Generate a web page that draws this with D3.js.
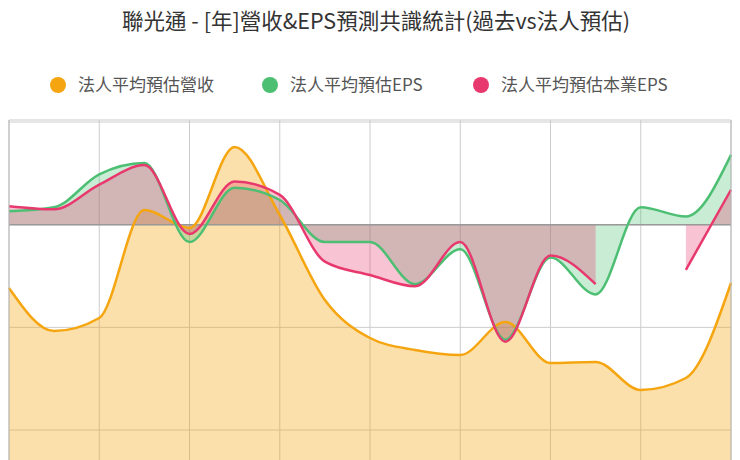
<!DOCTYPE html>
<html><head><meta charset="utf-8">
<script src="https://cdn.jsdelivr.net/npm/d3@7"></script>
<style>body{margin:0;background:#fff;font-family:"Noto Sans CJK TC","Noto Sans",sans-serif;}</style>
</head><body>
<script>
/* data */
var periods = d3.range(17);
var revenue = [172,129,142,250,232,313,245,160,122,110,105,138,97,98,70,82,177];
var epsAll = [0.13,0.17,0.49,0.60,-0.17,0.36,0.24,-0.17,-0.17,-0.58,-0.24,-1.12,-0.32,-0.68,0.17,0.08,0.68];
var epsCore = [0.18,0.15,0.39,0.58,-0.09,0.42,0.29,-0.36,-0.49,-0.60,-0.17,-1.14,-0.30,-0.58,null,-0.44,0.34];
var epsTicks = [1,0,-1,-2];

var W = 740, H = 460;
var svg = d3.select("body").append("svg").attr("width", W).attr("height", H);

var x = d3.scaleLinear().domain([0,16]).range([9,731]);
var yEps = d3.scaleLinear().domain([1,-2]).range([122,430]);
var yRev = d3.scaleLinear().domain([0,340]).range([460,120]);

/* title + legend */
svg.append("text").attr("x", 376).attr("y", 29).attr("text-anchor","middle")
  .attr("font-size", 21.5).attr("fill","#333").text("聯光通 - [年]營收&EPS預測共識統計(過去vs法人預估)");
var legend = [["法人平均預估營收","#F5A50F",58],["法人平均預估EPS","#4CBF73",270],["法人平均預估本業EPS","#E8396E",481]];
legend.forEach(function(l){
  svg.append("circle").attr("cx", l[2]).attr("cy", 85).attr("r", 8).attr("fill", l[1]);
  svg.append("text").attr("x", l[2]+20).attr("y", 91).attr("font-size", 17).attr("fill","#555").text(l[0]);
});

/* grid */
var g = svg.append("g");
periods.filter(function(d){return d%2==0;}).forEach(function(d){
  g.append("line").attr("x1", x(d)).attr("x2", x(d)).attr("y1",120).attr("y2",H).attr("stroke","#ccc");
});
epsTicks.forEach(function(t){
  g.append("line").attr("x1",9).attr("x2",731).attr("y1",yEps(t)).attr("y2",yEps(t)).attr("stroke","#ccc");
});
g.append("line").attr("x1",9).attr("x2",731).attr("y1",120).attr("y2",120).attr("stroke","#ccc");

/* areas */
var curve = d3.curveMonotoneX;
svg.append("path").datum(revenue)
  .attr("d", d3.area().curve(curve).x(function(d,i){return x(i);}).y0(H).y1(function(d){return yRev(d);}))
  .attr("fill","rgba(245,165,15,0.35)");
function epsArea(data, col){
  var a = d3.area().curve(curve).defined(function(d){return d!==null;})
    .x(function(d,i){return x(i);}).y0(yEps(0)).y1(function(d){return yEps(d);});
  svg.append("path").datum(data).attr("d", a).attr("fill", col);
}
epsArea(epsAll, "rgba(76,191,115,0.3)");
epsArea(epsCore, "rgba(232,57,110,0.3)");
svg.append("line").attr("x1",9).attr("x2",731).attr("y1",yEps(0)).attr("y2",yEps(0)).attr("stroke","#999").attr("stroke-width",1.5);

function line(data, yS, col){
  var l = d3.line().curve(curve).defined(function(d){return d!==null;})
    .x(function(d,i){return x(i);}).y(function(d){return yS(d);});
  svg.append("path").datum(data).attr("d", l).attr("fill","none").attr("stroke", col).attr("stroke-width",2.5);
}
line(revenue, yRev, "#F5A50F");
line(epsAll, yEps, "#4CBF73");
line(epsCore, yEps, "#E8396E");

/* frame */
svg.append("line").attr("x1",9).attr("x2",9).attr("y1",120).attr("y2",H).attr("stroke","#bbb");
svg.append("line").attr("x1",731).attr("x2",731).attr("y1",120).attr("y2",H).attr("stroke","#bbb");
</script>
</body></html>
